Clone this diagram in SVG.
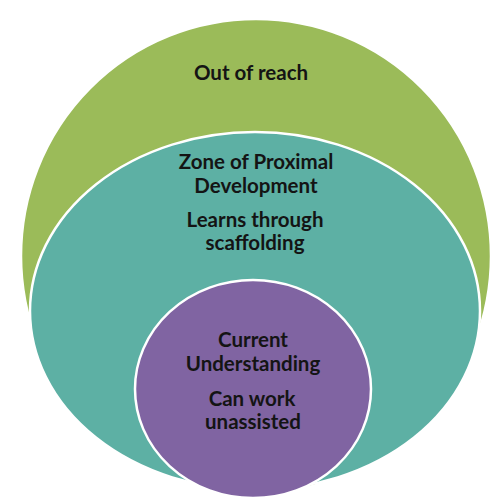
<svg xmlns="http://www.w3.org/2000/svg" width="499" height="499" viewBox="0 0 499 499">
<style>
.lbl{font-family:Lato,"Open Sans","Liberation Sans",sans-serif;font-weight:bold;font-size:20.5px;fill:#141414;text-anchor:middle}
.ring{stroke:#ffffff;stroke-width:2.5}
</style>
<rect width="499" height="499" fill="#ffffff"/>
<g id="out-of-reach">
<ellipse class="ring" cx="256" cy="256" rx="235" ry="237" fill="#9BBB59"/>
<text class="lbl" x="251" y="80">Out of reach</text>
</g>
<g id="zpd">
<ellipse class="ring" cx="255" cy="311" rx="225" ry="179" fill="#5DB0A4"/>
<text class="lbl" x="256" y="169">Zone of Proximal</text>
<text class="lbl" x="256" y="193">Development</text>
<text class="lbl" x="255" y="227">Learns through</text>
<text class="lbl" x="255" y="250">scaffolding</text>
</g>
<g id="current">
<ellipse class="ring" cx="253" cy="389" rx="118" ry="109" fill="#8064A2"/>
<text class="lbl" x="253" y="347">Current</text>
<text class="lbl" x="253" y="371">Understanding</text>
<text class="lbl" x="252" y="406">Can work</text>
<text class="lbl" x="253" y="429">unassisted</text>
</g>
<g id="connectors"/>
</svg>
